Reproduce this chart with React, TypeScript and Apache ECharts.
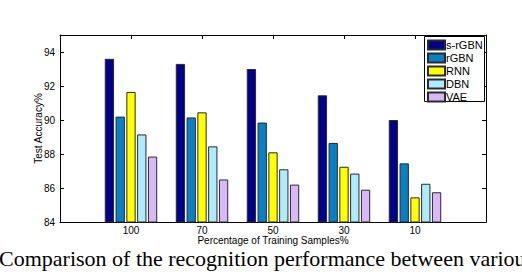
import React, { useEffect, useRef } from "react";
import * as echarts from "echarts";

const categories = ["", "100", "70", "50", "30", "10", ""];
const seriesNames = ["s-rGBN", "rGBN", "RNN", "DBN", "VAE"];
const sRGBN = [93.6, 93.3, 93.0, 91.45, 90.0];
const rGBN = [90.2, 90.15, 89.85, 88.65, 87.45];
const RNN = [91.65, 90.45, 88.1, 87.25, 85.45];
const DBN = [89.15, 88.45, 87.1, 86.85, 86.25];
const VAE = [87.85, 86.5, 86.2, 85.9, 85.75];
const yTicks = { min: 84, max: 95, interval: 2 };
const xName = "Percentage of Training Samples%";
const yName = "Test Accuracy%";
const caption = "Comparison of the recognition performance between variou";

const colors = ["#000088", "#0A80C4", "#FFFF00", "#AEEBFC", "#D9B8FA"];
const values = [sRGBN, rGBN, RNN, DBN, VAE];

export default function App() {
  const ref = useRef<HTMLDivElement>(null);
  useEffect(() => {
    if (!ref.current) return;
    const chart = echarts.init(ref.current, null, { renderer: "svg" });
    const font = "'Liberation Sans', Arial, sans-serif";
    chart.setOption({
      animation: false,
      backgroundColor: "#fff",
      textStyle: { fontFamily: font, color: "#000" },
      grid: { left: 60, right: 36, top: 35, bottom: 50 },
      legend: {
        orient: "vertical",
        left: 427,
        top: 39.4,
        padding: 0,
        itemWidth: 17,
        itemHeight: 9,
        itemGap: 2,
        icon: "rect",
        z: 10,
        textStyle: { fontSize: 11, lineHeight: 10.65, fontFamily: font, color: "#000", padding: [0, 0, 0, -4] },
        data: seriesNames,
      },
      xAxis: [
        {
          type: "category",
          data: categories,
          boundaryGap: false,
          position: "bottom",
          axisLine: { lineStyle: { color: "#000", width: 1 } },
          axisTick: { show: false },
          axisLabel: { color: "#000", fontSize: 10, margin: 3, fontFamily: font },
          name: xName,
          nameLocation: "middle",
          nameGap: 13,
          nameMoveOverlap: false,
          nameTextStyle: { fontSize: 10, color: "#000", fontFamily: font },
          splitLine: { show: false },
        },
        {
          type: "category",
          data: categories,
          boundaryGap: false,
          position: "top",
          axisLine: { lineStyle: { color: "#000", width: 1 } },
          axisTick: { show: true, inside: true, length: 4, lineStyle: { color: "#000" } },
          axisLabel: { show: false },
          splitLine: { show: false },
        },
      ],
      yAxis: [
        {
          type: "value",
          min: yTicks.min,
          max: yTicks.max,
          interval: yTicks.interval,
          position: "left",
          axisLine: { show: true, lineStyle: { color: "#000", width: 1 } },
          axisTick: { show: true, inside: true, length: 4, lineStyle: { color: "#000" } },
          axisLabel: { color: "#000", fontSize: 10, margin: 5, showMaxLabel: false, fontFamily: font },
          splitLine: { show: false },
          name: yName,
          nameLocation: "middle",
          nameGap: 17,
          nameMoveOverlap: false,
          nameTextStyle: { fontSize: 10, color: "#000", fontFamily: font },
        },
        {
          type: "value",
          min: yTicks.min,
          max: yTicks.max,
          interval: yTicks.interval,
          position: "right",
          axisLine: { show: true, lineStyle: { color: "#000", width: 1 } },
          axisTick: { show: true, inside: true, length: 4, lineStyle: { color: "#000" } },
          axisLabel: { show: false },
          splitLine: { show: false },
        },
      ],
      series: seriesNames.map((name, i) => ({
        name,
        type: "bar",
        xAxisIndex: 0,
        yAxisIndex: 0,
        barWidth: 9.3,
        barGap: "16%",
        data: ["-", ...values[i], "-"],
        itemStyle: { color: colors[i], borderColor: "#2a2a2a", borderWidth: 1 },
      })),
      graphic: [
        {
          type: "rect",
          z: 5,
          shape: { x: 424.5, y: 36.5, width: 60, height: 65 },
          style: { fill: "#fff", stroke: "#000", lineWidth: 1 },
        },
        {
          type: "text",
          x: -1,
          y: 258,
          z: 10,
          style: {
            text: caption,
            font: "22px 'Liberation Serif', 'Times New Roman', serif",
            fill: "#000",
            verticalAlign: "middle",
            align: "left",
          },
        },
      ],
    });
    return () => chart.dispose();
  }, []);
  return (
    <div
      ref={ref}
      style={{ position: "absolute", left: 0, top: 0, width: 522, height: 272 }}
    />
  );
}
